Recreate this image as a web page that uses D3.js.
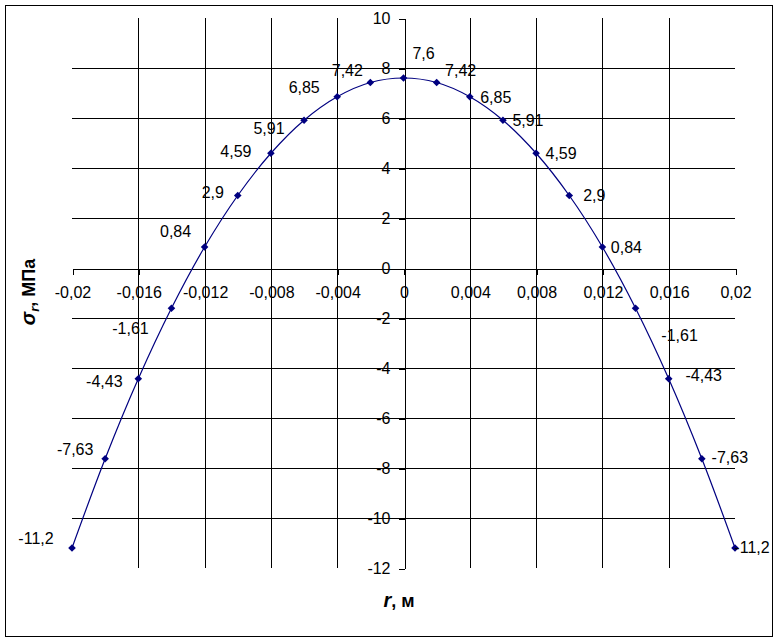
<!DOCTYPE html>
<html>
<head>
<meta charset="utf-8">
<script src="https://cdn.jsdelivr.net/npm/d3@7"></script>
<style>
  html, body { margin: 0; padding: 0; background: #fff; }
  svg { display: block; font-family: "Liberation Sans", Arial, sans-serif; }
</style>
</head>
<body>
<svg id="chart" width="779" height="642"></svg>
<script>
// ---- data ----
const radii = [-0.02, -0.018, -0.016, -0.014, -0.012, -0.01, -0.008, -0.006, -0.004, -0.002, 0,
               0.002, 0.004, 0.006, 0.008, 0.01, 0.012, 0.014, 0.016, 0.018, 0.02];
const stress = [-11.2, -7.63, -4.43, -1.61, 0.84, 2.9, 4.59, 5.91, 6.85, 7.42, 7.6,
                7.42, 6.85, 5.91, 4.59, 2.9, 0.84, -1.61, -4.43, -7.63, -11.2];
const xTicks = [-0.02, -0.016, -0.012, -0.008, -0.004, 0, 0.004, 0.008, 0.012, 0.016, 0.02];
const yTicks = [10, 8, 6, 4, 2, 0, -2, -4, -6, -8, -10, -12];

// ---- layout (label offsets from each point, px) ----
const labelOffsets = [
  [-36, -10], [-30, -9], [-34, 3], [-41, 20], [-29, -16], [-25, -3], [-35, -2], [-35, 8], [-33, -9], [-23, -12],
  [20, -25],
  [24, -12], [26, 1], [25, 0], [25, 0], [25, 0], [24, 0], [44, 27], [35, -3], [28, -1], [17, -1]
];

const svg = d3.select("#chart");

// outer border
svg.append("rect").attr("x", 5.5).attr("y", 5.5).attr("width", 767).attr("height", 631)
  .attr("fill", "#fff").attr("stroke", "#000").attr("stroke-width", 1);

const x = d3.scaleLinear().domain([-0.02, 0.02]).range([72, 735]);
const y = d3.scaleLinear().domain([-12, 10]).range([568, 18]);

const loc = d3.formatLocale({decimal: ",", thousands: " ", grouping: [3], currency: ["", ""], minus: "-"});
const fmt = loc.format("~g");

// gridlines
const grid = svg.append("g").attr("stroke", "#000").attr("stroke-width", 1).attr("shape-rendering", "crispEdges");
grid.selectAll("line.v").data(xTicks.filter(d => d !== -0.02 && d !== 0.02 && d !== 0)).join("line")
  .attr("x1", d => Math.round(x(d)) + 0.5).attr("x2", d => Math.round(x(d)) + 0.5)
  .attr("y1", y(10)).attr("y2", y(-12));
grid.selectAll("line.h").data(yTicks.filter(d => d !== 10 && d !== -12 && d !== 0)).join("line")
  .attr("y1", d => Math.round(y(d)) + 0.5).attr("y2", d => Math.round(y(d)) + 0.5)
  .attr("x1", x(-0.02)).attr("x2", x(0.02));

// x axis at y = 0
const xAxis = svg.append("g").attr("transform", `translate(0.5,${Math.round(y(0)) + 0.5})`)
  .call(d3.axisBottom(x).tickValues(xTicks).tickFormat(fmt).tickSize(6).tickSizeOuter(0).tickPadding(12));
// y axis at x = 0
const yAxis = svg.append("g").attr("transform", `translate(${Math.round(x(0)) + 0.5},0.5)`)
  .call(d3.axisLeft(y).tickValues(yTicks).tickFormat(fmt).tickSize(6).tickSizeOuter(0).tickPadding(8));

[xAxis, yAxis].forEach(a => {
  a.selectAll("path.domain").attr("stroke", "#000").attr("shape-rendering", "crispEdges");
  a.selectAll(".tick line").attr("stroke", "#000").attr("shape-rendering", "crispEdges");
  a.selectAll("text").attr("fill", "#000").style("font-size", "16px").style("font-family", '"Liberation Sans", Arial, sans-serif');
});

// curve
const pts = radii.map((r, i) => [r, stress[i]]);
const line = d3.line().x(d => x(d[0])).y(d => y(d[1])).curve(d3.curveCatmullRom.alpha(0.5));
svg.append("path").datum(pts).attr("d", line)
  .attr("fill", "none").attr("stroke", "#000080").attr("stroke-width", 1.2);

// markers (diamonds)
const s = 3.8;
svg.append("g").selectAll("path").data(pts).join("path")
  .attr("d", d => {
    const cx = x(d[0]), cy = y(d[1]);
    return `M${cx},${cy - s}L${cx + s},${cy}L${cx},${cy + s}L${cx - s},${cy}Z`;
  })
  .attr("fill", "#000080");

// data labels
svg.append("g").selectAll("text").data(pts).join("text")
  .attr("x", (d, i) => x(d[0]) + labelOffsets[i][0])
  .attr("y", (d, i) => y(d[1]) + labelOffsets[i][1])
  .attr("dy", "0.35em")
  .attr("text-anchor", "middle")
  .style("font-size", "16px")
  .attr("fill", "#000")
  .text(d => fmt(d[1]));

// axis titles
const xt = svg.append("text").attr("x", 399).attr("y", 600).attr("dy", "0.35em")
  .attr("text-anchor", "middle").style("font-size", "20px").style("font-weight", "bold");
xt.append("tspan").style("font-style", "italic").text("r");
xt.append("tspan").style("font-size", "18px").text(", м");

const yt = svg.append("text").attr("transform", "translate(29,292) rotate(-90)").attr("dy", "0.35em")
  .attr("text-anchor", "middle").style("font-size", "18px").style("font-weight", "bold");
yt.append("tspan").style("font-style", "italic").style("font-size", "20px").text("σ");
yt.append("tspan").style("font-style", "italic").style("font-size", "13px").attr("dy", "0.25em").text("r");
yt.append("tspan").attr("dy", "-0.2em").text(", МПа");
</script>
</body>
</html>
